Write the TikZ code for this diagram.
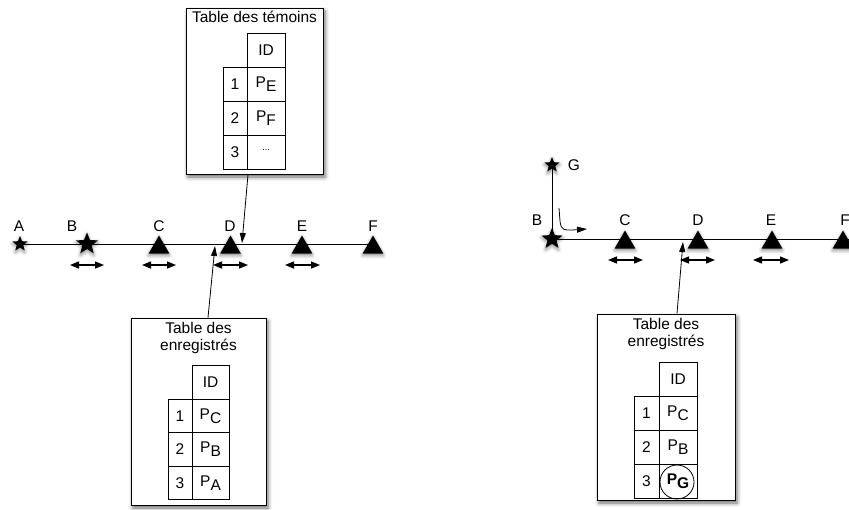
\documentclass[tikz,border=0pt]{standalone}
\usepackage{fontspec}
\setmainfont{Liberation Sans}
\usetikzlibrary{shapes.geometric,arrows.meta,shadows.blur}
\begin{document}
\begin{tikzpicture}[x=1pt,y=-1pt,
  every node/.style={font=\fontsize{15.5}{17}\selectfont, inner sep=0pt},
  tbox/.style={draw, line width=1pt, fill=white,
    blur shadow={shadow xshift=2pt, shadow yshift=-3pt, shadow blur radius=4pt, shadow opacity=60}},
  cellbox/.style={draw, line width=0.8pt},
  vstar/.style={star, star points=5, star point ratio=2.3, fill=black, minimum size=#1,
    blur shadow={shadow xshift=0pt, shadow yshift=-2pt, shadow blur radius=3.5pt, shadow opacity=45}},
  vtri/.style={regular polygon, regular polygon sides=3, fill=black, minimum size=24pt,
    blur shadow={shadow xshift=0pt, shadow yshift=-2pt, shadow blur radius=3.5pt, shadow opacity=45}},
  dbl/.style={line width=1.4pt, {Triangle[width=7pt,length=9pt]}-{Triangle[width=7pt,length=9pt]}},
  conn/.style={line width=0.8pt, -{Triangle[width=6pt,length=10pt]}},
  mainline/.style={line width=0.9pt}
]
\useasboundingbox (0,0) rectangle (849,509);

% ---------- left: top box ----------
\node[tbox, minimum width=137pt, minimum height=166pt] (T) at (254.5,91) {};
\node (Tt) at (254.5,17) {Table des témoins};
\node[cellbox, minimum width=38pt, minimum height=34pt] (Tid) at (266,50) {ID};
\node[cellbox, minimum width=38pt, minimum height=34pt] (Tp1) at (266,84) {P\raisebox{-0.45ex}{E}};
\node[cellbox, minimum width=38pt, minimum height=34pt] (Tp2) at (266,118) {P\raisebox{-0.45ex}{F}};
\node[cellbox, minimum width=38pt, minimum height=34pt] (Tp3) at (266,152) {\raisebox{0.6ex}{\fontsize{9}{9}\selectfont ...}};
\node[cellbox, minimum width=24pt, minimum height=34pt] (Tn1) at (235,84) {1};
\node[cellbox, minimum width=24pt, minimum height=34pt] (Tn2) at (235,118) {2};
\node[cellbox, minimum width=24pt, minimum height=34pt] (Tn3) at (235,152) {3};

% ---------- left: line ----------
\node[vstar=16pt] (A) at (20,244) {};
\node[vstar=23pt] (B) at (87,244) {};
\node[vtri] (C) at (159,247.5) {};
\node[vtri] (D) at (230.5,247.5) {};
\node[vtri] (E) at (302,247.5) {};
\node[vtri] (F) at (373,247.5) {};
\draw[mainline] (A.center) -- (F.center |- A.center);
\node (lA) at (19,226) {A};
\node (lB) at (72,226) {B};
\node (lC) at (159,226) {C};
\node (lD) at (230,226) {D};
\node (lE) at (302,226) {E};
\node (lF) at (373,226) {F};
\draw[dbl] (70,265) -- (104,265);
\draw[dbl] (142,265) -- (176,265);
\draw[dbl] (213,265) -- (248,265);
\draw[dbl] (285,265) -- (320,265);

% ---------- left: bottom box ----------
\node[tbox, minimum width=135pt, minimum height=187pt] (L) at (198.5,411.5) {};
\node (Lt1) at (198.5,328) {Table des};
\node (Lt2) at (198.5,346) {enregistrés};
\node[cellbox, minimum width=37pt, minimum height=33.5pt] (Lid) at (210.5,382.5) {ID};
\node[cellbox, minimum width=37pt, minimum height=33.5pt] (Lp1) at (210.5,416) {P\raisebox{-0.45ex}{C}};
\node[cellbox, minimum width=37pt, minimum height=33.5pt] (Lp2) at (210.5,449.5) {P\raisebox{-0.45ex}{B}};
\node[cellbox, minimum width=37pt, minimum height=33.5pt] (Lp3) at (210.5,483) {P\raisebox{-0.45ex}{A}};
\node[cellbox, minimum width=24pt, minimum height=33.5pt] (Ln1) at (180,416) {1};
\node[cellbox, minimum width=24pt, minimum height=33.5pt] (Ln2) at (180,449.5) {2};
\node[cellbox, minimum width=24pt, minimum height=33.5pt] (Ln3) at (180,483) {3};

% connectors left
\coordinate (t1) at (242,243);
\draw[conn] ([xshift=-6.5pt]T.south) -- (t1);
\coordinate (t2) at (215,246);
\draw[conn] ([xshift=9.5pt]L.north) -- (t2);

% ---------- right: line ----------
\node[vstar=16pt] (G2) at (552,165) {};
\node[vstar=22pt] (B2) at (552,239) {};
\node[vtri] (C2) at (625,242.5) {};
\node[vtri] (D2) at (698,242.5) {};
\node[vtri] (E2) at (772,242.5) {};
\node[vtri] (F2) at (843,242.5) {};
\coordinate (rE) at (849,239);
\draw[mainline] (B2.center) -- (rE);
\draw[mainline] (G2.center) -- (B2.center);
\node (lG2) at (574,165) {G};
\node (lB2) at (537,220) {B};
\node (lC2) at (625,220) {C};
\node (lD2) at (698,220) {D};
\node (lE2) at (771,220) {E};
\node (lF2) at (845,220) {F};
\draw[dbl] (608,260) -- (643,260);
\draw[dbl] (680,260) -- (715,260);
\draw[dbl] (753,260) -- (789,260);
\coordinate (h0) at (559,208);
\coordinate (h1) at (587,229);
\draw[conn] (h0) -- (560,221) .. controls (561,231) and (565,230) .. (572,230) -- (h1);

% ---------- right: bottom box ----------
\node[tbox, minimum width=138pt, minimum height=186pt] (R) at (666,407) {};
\node (Rt1) at (666,324) {Table des};
\node (Rt2) at (666,342) {enregistrés};
\node[cellbox, minimum width=38pt, minimum height=34pt] (Rid) at (678,379) {ID};
\node[cellbox, minimum width=38pt, minimum height=34pt] (Rp1) at (678,413) {P\raisebox{-0.45ex}{C}};
\node[cellbox, minimum width=38pt, minimum height=34pt] (Rp2) at (678,447) {P\raisebox{-0.45ex}{B}};
\node[cellbox, minimum width=38pt, minimum height=34pt] (Rp3) at (678,481) {\textbf{P\raisebox{-0.45ex}{G}}};
\node[cellbox, minimum width=25pt, minimum height=34pt] (Rn1) at (646.5,413) {1};
\node[cellbox, minimum width=25pt, minimum height=34pt] (Rn2) at (646.5,447) {2};
\node[cellbox, minimum width=25pt, minimum height=34pt] (Rn3) at (646.5,481) {3};
\node[circle, draw, line width=0.8pt, minimum size=34pt] (Rc) at (677,482) {};

\coordinate (t3) at (683,242);
\draw[conn] ([xshift=11pt]R.north) -- (t3);
\end{tikzpicture}
\end{document}
